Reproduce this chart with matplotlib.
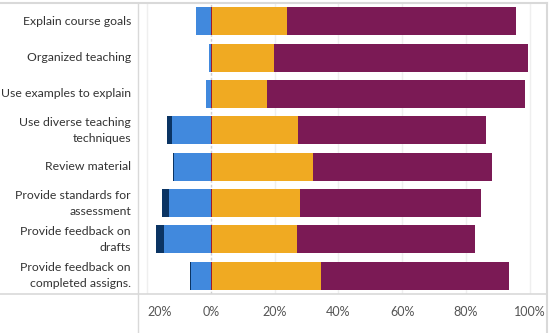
import matplotlib
matplotlib.use("Agg")
import matplotlib.pyplot as plt
from matplotlib.lines import Line2D
from matplotlib.transforms import ScaledTranslation, blended_transform_factory
import numpy as np

# survey items, top to bottom
items = ["Explain course goals", "Organized teaching", "Use examples to explain",
         "Use diverse teaching\ntechniques", "Review material",
         "Provide standards for\nassessment", "Provide feedback on\ndrafts",
         "Provide feedback on\ncompleted assigns."]

# negative side (% of responses)
strongly_disagree = [0.0, 0.0, 0.0, 1.6, 0.3, 2.2, 2.5, 0.3]
disagree = [4.7, 0.6, 1.6, 12.2, 11.6, 13.1, 14.7, 6.3]
# positive side
neutral = [0.3, 0.3, 0.3, 0.3, 0.3, 0.3, 0.3, 0.3]
agree = [23.5, 19.4, 17.2, 26.9, 31.6, 27.6, 26.6, 34.1]
strongly_agree = [72.0, 79.8, 81.1, 59.2, 56.4, 56.9, 56.0, 59.2]

tick_vals = [-20, 0, 20, 40, 60, 80, 100]
tick_labels = ["20%", "0%", "20%", "40%", "60%", "80%", "100%"]

c_dblue = "#0b3463"
c_lblue = "#4189dd"
c_red = "#9b1b30"
c_orange = "#f0aa22"
c_purple = "#7b1a55"

plt.rcParams['font.family'] = ['Lato', 'DejaVu Sans']

W, H = 550, 333
fig = plt.figure(figsize=(W / 100, H / 100), dpi=100)
ax = fig.add_axes([137 / W, (H - 294) / H, (547 - 137) / W, (294 - 3) / H])

y = np.arange(len(items))
h = 0.77
dis = np.array(disagree)
sdis = np.array(strongly_disagree)
neu = np.array(neutral)
agr = np.array(agree)
sag = np.array(strongly_agree)

ax.barh(y, -dis, height=h, color=c_lblue, zorder=3)
ax.barh(y, -sdis, left=-dis, height=h, color=c_dblue, zorder=3)
ax.barh(y, neu, height=h, color=c_red, zorder=3)
ax.barh(y, agr, left=neu, height=h, color=c_orange, zorder=3)
ax.barh(y, sag, left=neu + agr, height=h, color=c_purple, zorder=3)

ax.set_xlim(-23.2, 105.4)
ax.set_ylim(len(items) - 0.5, -0.5)

for v in tick_vals:
    if v == 0:
        ax.axvline(v, color="#d0d0d0", lw=1, ls=(0, (2, 1.5)), zorder=1)
    else:
        ax.axvline(v, color="#efefef", lw=1, zorder=1)

ax.set_xticks(tick_vals)
ax.set_xticklabels(tick_labels, fontsize=9, color="#555555")
ax.tick_params(axis="x", length=0, pad=9)
# first label is nudged right, as in the original
lab0 = ax.get_xticklabels()[0]
lab0.set_transform(lab0.get_transform() + ScaledTranslation(12 / 100, 0, fig.dpi_scale_trans))

# row labels, right aligned in the left column, one text per line
ax.set_yticks([])
lbl_tr = blended_transform_factory(fig.transFigure, ax.transData)
line_gap = 16 / 100  # inches between wrapped lines
for yi, name in zip(y, items):
    lines = name.split("\n")
    n = len(lines)
    for k, ln in enumerate(lines):
        dy = ((n - 1) / 2 - k) * line_gap
        tr = lbl_tr + ScaledTranslation(0, dy, fig.dpi_scale_trans)
        ax.text(131 / W, yi, ln, transform=tr, ha="right", va="center",
                fontsize=8.8, color="#333333")

for s in ax.spines.values():
    s.set_visible(False)

# frame lines like the dashboard
lc = "#d9d9d9"
fig.add_artist(Line2D([0, 547 / W], [(H - 3) / H] * 2, color=lc, lw=1.5))
fig.add_artist(Line2D([0, 547 / W], [(H - 294) / H] * 2, color=lc, lw=1.2))
fig.add_artist(Line2D([547 / W] * 2, [0, (H - 3) / H], color=lc, lw=1.5))
fig.add_artist(Line2D([137.5 / W] * 2, [0, (H - 3) / H], color=lc, lw=1))

fig.savefig("out.png", dpi=100)
